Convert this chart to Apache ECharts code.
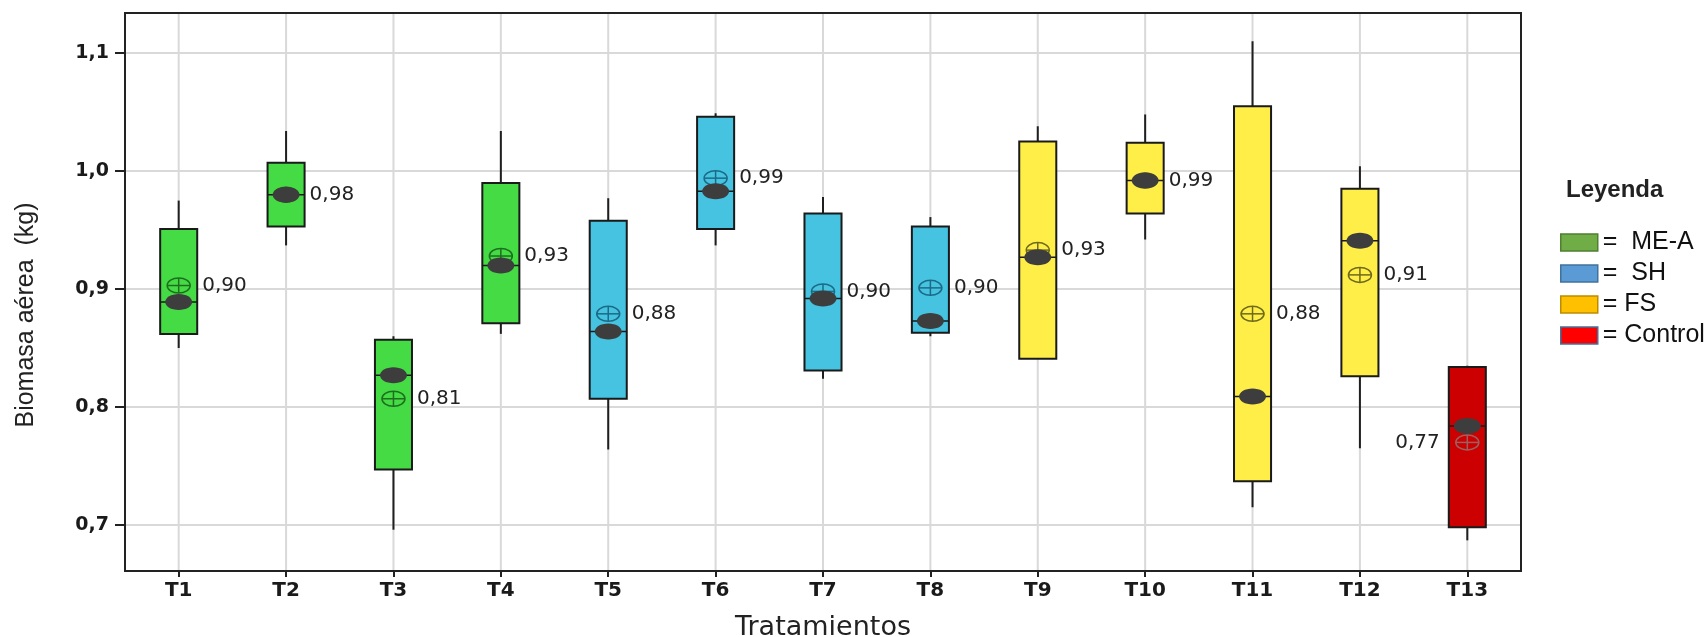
<!DOCTYPE html>
<html><head><meta charset="utf-8">
<script src="https://cdn.jsdelivr.net/npm/echarts@6/dist/echarts.min.js"></script>
<style>html,body{margin:0;padding:0;background:#fff}#c{width:1708px;height:637px}</style>
</head><body><div id="c"></div>
<script>
// ---- data ----
const categories = ['T1','T2','T3','T4','T5','T6','T7','T8','T9','T10','T11','T12','T13'];
const groups = ['ME-A','ME-A','ME-A','ME-A','SH','SH','SH','SH','FS','FS','FS','FS','Control'];
const whiskerLow  = [0.850,0.937,0.696,0.862,0.764,0.937,0.824,0.860,0.841,0.942,0.715,0.765,0.687];
const q1          = [0.862,0.953,0.747,0.871,0.807,0.951,0.831,0.863,0.841,0.964,0.737,0.826,0.698];
const median      = [0.889,0.980,0.827,0.920,0.864,0.983,0.892,0.873,0.927,0.992,0.809,0.941,0.784];
const q3          = [0.951,1.007,0.857,0.990,0.958,1.046,0.964,0.953,1.025,1.024,1.055,0.985,0.834];
const whiskerHigh = [0.975,1.034,0.860,1.034,0.977,1.049,0.978,0.961,1.038,1.048,1.110,1.004,0.835];
const mean        = [0.903,0.980,0.807,0.928,0.879,0.994,0.898,0.901,0.933,0.992,0.879,0.912,0.770];
const meanLabels  = ['0,90','0,98','0,81','0,93','0,88','0,99','0,90','0,90','0,93','0,99','0,88','0,91','0,77'];
const yTicks      = [0.7,0.8,0.9,1.0,1.1];
const yTickLabels = ['0,7','0,8','0,9','1,0','1,1'];
const legendGroups = ['ME-A','SH','FS','Control'];
const legendNames  = ['=  ME-A','=  SH','= FS','= Control'];
const yAxisTitle = 'Biomasa aérea  (kg)';
const xAxisTitle = 'Tratamientos';
const legendTitle = 'Leyenda';

// ---- styles ----
const boxColors  = {'ME-A':'#45DB45','SH':'#45C3E0','FS':'#FFEE48','Control':'#CC0000'};
const meanColors = {'ME-A':'#1E6E1E','SH':'#1C6A86','FS':'#6E6A1C','Control':'#9A6060'};
const legendFill = {'ME-A':'#70AD47','SH':'#5B9BD5','FS':'#FFC000','Control':'#FF0000'};
const legendEdge = {'ME-A':'#507E32','SH':'#41719C','FS':'#BC8C00','Control':'#41719C'};
const G = {left:125, top:13, width:1396, height:558};

const chart = echarts.init(document.getElementById('c'), null, {renderer:'canvas'});

const boxData = categories.map((c,i)=>[i, whiskerLow[i], q1[i], median[i], q3[i], whiskerHigh[i], mean[i]]);

function renderItem(params, api) {
  const idx = params.dataIndex;
  const i = api.value(0);
  const cs = params.coordSys;
  const pLo = api.coord([i, api.value(1)]);
  const pQ1 = api.coord([i, api.value(2)]);
  const pMed = api.coord([i, api.value(3)]);
  const pQ3 = api.coord([i, api.value(4)]);
  const pHi = api.coord([i, api.value(5)]);
  const pMean = api.coord([i, api.value(6)]);
  const cx = pMed[0];
  const hw = api.size([1, 0])[0] * 0.345 / 2;
  const g = groups[idx];
  const leftLabel = idx === categories.length - 1;
  const mrx = 11.5, mry = 7.5;
  return {
    type:'group',
    children:[
      {type:'line', shape:{x1:cx, y1:cs.y, x2:cx, y2:cs.y+cs.height}, style:{stroke:'#d9d9d9', lineWidth:2}},
      {type:'line', shape:{x1:cx, y1:pHi[1], x2:cx, y2:pLo[1]}, style:{stroke:'#1f1f1f', lineWidth:2}},
      {type:'rect', shape:{x:cx-hw, y:pQ3[1], width:2*hw, height:pQ1[1]-pQ3[1]}, style:{fill:boxColors[g], stroke:'#1a1a1a', lineWidth:2}},
      {type:'line', shape:{x1:cx-hw, y1:pMed[1], x2:cx+hw, y2:pMed[1]}, style:{stroke:'#1a1a1a', lineWidth:1.5}},
      {type:'ellipse', shape:{cx:cx, cy:pMean[1], rx:mrx, ry:mry}, style:{fill:'none', stroke:meanColors[g], lineWidth:1.5}},
      {type:'line', shape:{x1:cx-mrx, y1:pMean[1], x2:cx+mrx, y2:pMean[1]}, style:{stroke:meanColors[g], lineWidth:1.5}},
      {type:'line', shape:{x1:cx, y1:pMean[1]-mry, x2:cx, y2:pMean[1]+mry}, style:{stroke:meanColors[g], lineWidth:1.5}},
      {type:'ellipse', shape:{cx:cx, cy:pMed[1], rx:13.5, ry:8}, style:{fill:'#3d3d3d'}},
      {type:'text', x: leftLabel ? cx-hw-9 : cx+hw+5, y: pMean[1],
        style:{text:meanLabels[idx], fill:'#222', font:'20px "DejaVu Sans"',
          align: leftLabel ? 'right':'left', verticalAlign:'middle',
          textAlign: leftLabel ? 'right':'left', textVerticalAlign:'middle'}}
    ]
  };
}

const legendSeries = legendGroups.map((g,k)=>({
  type:'bar', name:legendNames[k], data:[], itemStyle:{color:legendFill[g], borderColor:legendEdge[g], borderWidth:1.5}
}));

chart.setOption({
  animation:false,
  backgroundColor:'#fff',
  title:{text:legendTitle, left:1566, top:178, padding:0,
    textStyle:{fontFamily:'Liberation Sans', fontWeight:'bold', fontSize:24, color:'#222'}},
  legend:{orient:'vertical', left:1560, top:230, padding:0, itemWidth:37, itemHeight:17, itemGap:6, icon:'rect',
    selectedMode:false,
    textStyle:{fontFamily:'Liberation Sans', fontSize:25, color:'#111'},
    data: legendGroups.map((g,k)=>({name:legendNames[k], itemStyle:{color:legendFill[g], borderColor:legendEdge[g], borderWidth:1.5}}))},
  grid:{left:G.left, top:G.top, width:G.width, height:G.height, containLabel:false, outerBoundsMode:'none'},
  xAxis:{type:'category', data:categories,
    name:xAxisTitle, nameLocation:'middle', nameGap:43,
    nameTextStyle:{fontFamily:'DejaVu Sans', fontSize:27, color:'#222'},
    axisLine:{show:true, lineStyle:{color:'#222', width:2}},
    axisTick:{show:true, alignWithLabel:true, length:6, lineStyle:{color:'#222', width:2}},
    axisLabel:{margin:10, fontFamily:'DejaVu Sans', fontWeight:'bold', fontSize:20, color:'#1a1a1a'},
    splitLine:{show:false}},
  yAxis:{type:'value', min:0.661, max:1.134,
    axisLine:{show:true, lineStyle:{color:'#222', width:2}},
    axisTick:{show:true, length:10, customValues:yTicks, lineStyle:{color:'#222', width:2}},
    axisLabel:{margin:16, customValues:yTicks, fontFamily:'DejaVu Sans', fontWeight:'bold', fontSize:19, color:'#1a1a1a',
      formatter:(v)=>{const k=yTicks.findIndex(t=>Math.abs(t-v)<1e-6); return k>=0 ? yTickLabels[k] : '';}},
    splitLine:{show:true, lineStyle:{color:'#d9d9d9', width:2}}},
  graphic:[
    {type:'rect', z:100, silent:true, shape:{x:G.left, y:G.top, width:G.width, height:G.height},
      style:{fill:'none', stroke:'#222', lineWidth:2}},
    {type:'text', z:100, x:26, y:315, rotation:Math.PI/2, silent:true,
      style:{text:yAxisTitle, font:'25px "Liberation Sans"', fill:'#222', align:'center', verticalAlign:'middle',
        textAlign:'center', textVerticalAlign:'middle'}}
  ],
  series:[
    {type:'custom', name:'box', renderItem:renderItem, data:boxData, encode:{x:0, y:[1,2,3,4,5,6]}, z:3, silent:true},
    ...legendSeries
  ]
});
</script></body></html>
